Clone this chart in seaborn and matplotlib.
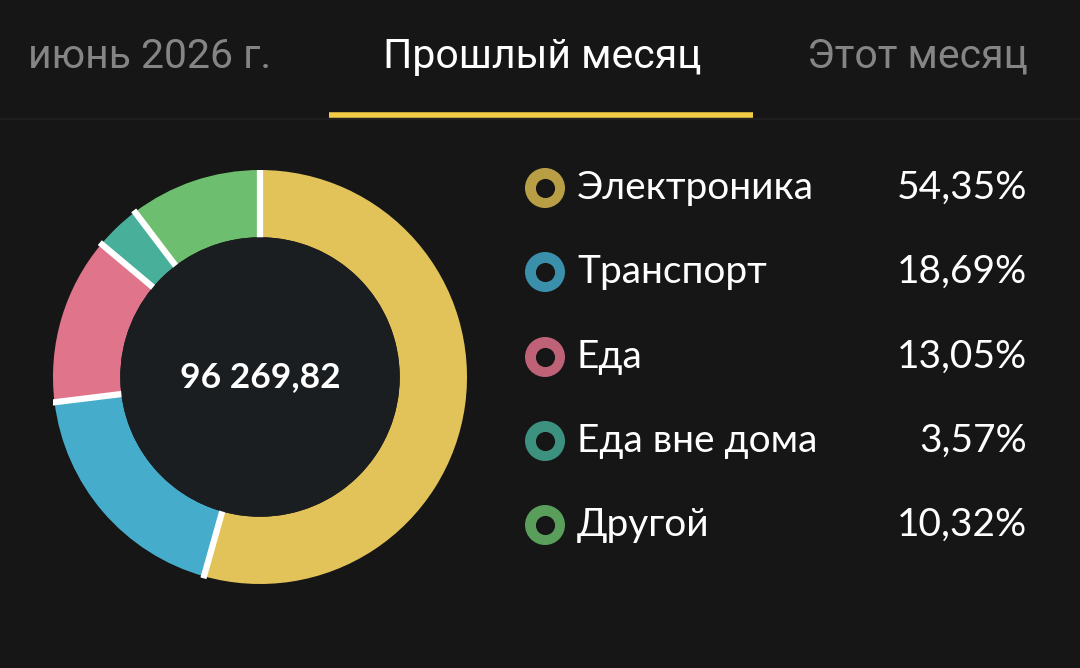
import numpy as np
import matplotlib
matplotlib.use("Agg")
import matplotlib.pyplot as plt
import seaborn as sns
import pandas as pd
from matplotlib.patches import Circle

# ---- data ----
categories = ["Электроника", "Транспорт", "Еда", "Еда вне дома", "Другой"]
shares = [54.35, 18.69, 13.05, 3.57, 10.32]
share_labels = ["54,35%", "18,69%", "13,05%", "3,57%", "10,32%"]
total_label = "96 269,82"
tabs = ["июнь 2026 г.", "Прошлый месяц", "Этот месяц"]
active_tab = 1

colors = ["#E2C35A", "#45ACCB", "#E0748B", "#48B09A", "#6DBE6E"]
marker_colors = ["#B89E45", "#3A8FAA", "#BF6277", "#3C917F", "#5A9E5B"]

BG = "#161616"
sns.set_theme(style="dark", rc={"figure.facecolor": BG, "axes.facecolor": BG})
plt.rcParams["font.family"] = ["Lato", "DejaVu Sans"]

W, H = 1080, 668
fig = plt.figure(figsize=(W / 100, H / 100), dpi=100)
fig.patch.set_facecolor(BG)

# ---- donut ----
cx, cy, R = 260, 377, 207
ax = fig.add_axes([(cx - R) / W, (H - cy - R) / H, 2 * R / W, 2 * R / H])
ax.set_facecolor(BG)
ring_w = 0.325
wedges, _ = ax.pie(shares, colors=colors, startangle=90, counterclock=False,
                   radius=1.0, wedgeprops=dict(width=ring_w, linewidth=0))
ax.set_xlim(-1, 1)
ax.set_ylim(-1, 1)
ax.set_aspect("equal")
ax.axis("off")
# white separators at slice boundaries
bounds = np.cumsum([0] + shares[:-1]) / sum(shares)
for b in bounds:
    ang = np.deg2rad(90 - 360 * b)
    r0, r1 = 1 - ring_w - 0.01, 1.01
    ax.plot([r0 * np.cos(ang), r1 * np.cos(ang)], [r0 * np.sin(ang), r1 * np.sin(ang)],
            color="white", lw=4.5, solid_capstyle="butt", zorder=3)
ax.add_patch(Circle((0, 0), 1 - ring_w, facecolor="#1B1E20", edgecolor="none", zorder=4))
ax.text(0, 0, total_label, ha="center", va="center", color="white",
        fontsize=25.5, fontweight="bold", zorder=5)

# ---- overlay in pixel coordinates ----
ov = fig.add_axes([0, 0, 1, 1], facecolor="none")
ov.set_xlim(0, W)
ov.set_ylim(H, 0)
ov.axis("off")

# header tabs
tab_x = [150, 542, 917]
for i, (t, x) in enumerate(zip(tabs, tab_x)):
    ov.text(x, 56, t, ha="center", va="center", fontsize=29.5,
            color="white" if i == active_tab else "#858585",
            family=["Roboto", "DejaVu Sans"])
ov.plot([0, W], [118.5, 118.5], color="#222222", lw=1.2)
ov.plot([329, 753], [115, 115], color="#F2CC47", lw=4, solid_capstyle="butt")

# legend
rows_y = [188, 272, 357, 441, 525]
leg = pd.DataFrame({"x": [545] * len(categories), "y": rows_y, "cat": categories})
sns.scatterplot(data=leg, x="x", y="y", hue="cat", palette=marker_colors, ax=ov,
                s=830, marker="o", legend=False, linewidth=0, zorder=5)
sns.scatterplot(data=leg, x="x", y="y", ax=ov, color="#161616", s=190,
                marker="o", legend=False, linewidth=0, zorder=6)
for cat, lab, y in zip(categories, share_labels, rows_y):
    ov.text(577, y, cat, ha="left", va="center", color="white", fontsize=28)
    ov.text(1027, y, lab, ha="right", va="center", color="white", fontsize=28)
ov.set_xlim(0, W)
ov.set_ylim(H, 0)

fig.savefig("out.png", dpi=100, facecolor=BG)
